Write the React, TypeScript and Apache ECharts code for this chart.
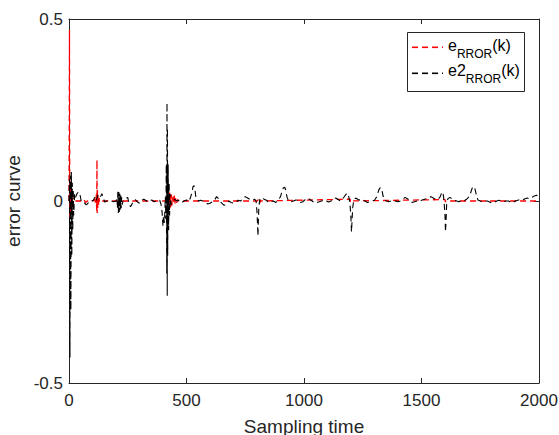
import React, { useEffect, useRef } from "react";
import * as echarts from "echarts";

// ---- data (sampling time, error value) ----
const seriesNames = ["e_RROR(k)", "e2_RROR(k)"];
const legendBase = ["e", "e2"];
const legendSub = "RROR";
const legendSuffix = "(k)";
const seriesColors = ["#ff0000", "#000000"];

const eRror: [number, number][] = [
  [0, 0], [1, 0.2], [2, 0.47], [3, 0.1], [4, -0.05], [6, 0.05], [8, -0.04], [10, 0.03],
  [12, -0.02], [14, 0.01], [18, 0.0], [30, 0.0], [60, 0.0], [64, 0.004], [70, -0.004],
  [78, 0.0], [100, 0.0], [110, 0.004], [114, -0.01], [116, 0.02], [118, -0.03], [119, 0.113],
  [120, -0.033], [121, 0.03], [122, -0.02], [124, 0.015], [126, -0.01], [128, 0.008],
  [130, -0.004], [134, 0.0], [300, 0.0], [420, 0.0], [424, 0.01], [426, -0.02], [428, 0.025],
  [430, -0.02], [432, 0.02], [434, -0.015], [436, 0.018], [438, -0.012], [440, 0.01],
  [444, -0.008], [448, 0.02], [450, -0.01], [454, 0.008], [458, -0.005], [462, 0.004],
  [468, 0.0], [800, 0.0], [812, 0.008], [814, -0.004], [816, 0.0], [1196, 0.005],
  [1198, -0.004], [1200, 0.0], [1600, 0.004], [1602, -0.003], [1604, 0.0], [2000, 0.0],
];

const e2Rror: [number, number][] = [
  [0, 0], [2, 0.06], [4, -0.43], [6, 0.07], [8, -0.3], [10, 0.08], [12, -0.15], [14, 0.05],
  [16, -0.08], [18, 0.03], [20, -0.04], [24, 0.02], [28, 0.01], [34, 0.02], [40, 0.025],
  [46, 0.02], [52, 0.0], [58, -0.005], [66, -0.005], [72, -0.01], [78, -0.008], [86, -0.002],
  [94, 0.002], [102, 0.0], [110, 0.01], [116, 0.0], [122, 0.015], [128, 0.02], [134, 0.012],
  [140, 0.02], [146, 0.008], [152, -0.003], [160, 0.0], [170, 0.002], [180, 0.0],
  [190, -0.002], [200, 0.0], [204, 0.01], [206, -0.02], [208, 0.03], [210, -0.033],
  [212, 0.025], [214, -0.03], [216, 0.02], [218, -0.025], [220, 0.015], [222, -0.02],
  [224, 0.01], [226, -0.01], [230, 0.0], [240, 0.005], [250, 0.01], [256, -0.01],
  [262, -0.016], [268, -0.008], [275, 0.0], [282, 0.004], [290, -0.002], [300, -0.006],
  [310, 0.002], [318, 0.005], [326, 0.002], [334, -0.002], [344, 0.0], [352, 0.003],
  [362, -0.002], [370, 0.0], [378, 0.003], [386, 0.002], [392, -0.01], [396, -0.03],
  [400, -0.07], [402, -0.04], [406, -0.06], [410, 0.01], [412, -0.05], [414, 0.1],
  [416, -0.2], [417, 0.27], [418, -0.26], [419, 0.2], [420, -0.15], [422, 0.1], [424, -0.08],
  [426, 0.05], [428, -0.04], [430, 0.02], [434, -0.01], [440, 0.0], [450, 0.004],
  [460, 0.0], [470, 0.002], [480, -0.004], [490, 0.0], [500, 0.003], [508, -0.002],
  [515, 0.006], [522, 0.02], [528, 0.04], [532, 0.042], [536, 0.03], [540, 0.01],
  [546, 0.004], [552, 0.0], [560, 0.002], [570, 0.0], [580, -0.004], [590, -0.008],
  [600, -0.006], [610, -0.002], [620, 0.003], [628, 0.012], [634, 0.008], [642, 0.0],
  [650, -0.006], [660, -0.012], [670, -0.008], [680, 0.0], [690, -0.004], [700, -0.006],
  [710, -0.003], [720, 0.002], [730, 0.0], [740, 0.006], [750, 0.012], [760, 0.008],
  [770, 0.004], [780, 0.002], [790, 0.005], [796, 0.0], [800, -0.03], [802, -0.06],
  [804, -0.096], [806, -0.05], [808, -0.015], [812, 0.004], [820, 0.01], [830, 0.005],
  [840, 0.002], [850, -0.004], [860, -0.002], [870, 0.0], [880, -0.004], [890, 0.002],
  [900, 0.012], [906, 0.025], [912, 0.036], [918, 0.038], [922, 0.03], [928, 0.01],
  [935, 0.0], [945, -0.002], [955, 0.0], [965, 0.003], [975, 0.0], [985, -0.004],
  [995, -0.002], [1005, 0.004], [1015, 0.008], [1025, 0.004], [1035, 0.0], [1045, -0.006],
  [1055, -0.004], [1065, -0.002], [1075, 0.0], [1085, 0.003], [1095, 0.0], [1105, -0.003],
  [1115, 0.0], [1125, 0.006], [1135, 0.008], [1145, 0.004], [1155, 0.0], [1165, 0.006],
  [1175, 0.015], [1183, 0.022], [1188, 0.018], [1192, 0.008], [1196, -0.01], [1200, -0.05],
  [1202, -0.085], [1204, -0.06], [1207, -0.02], [1212, 0.004], [1220, 0.008], [1230, 0.004],
  [1240, 0.002], [1250, 0.004], [1260, 0.0], [1270, -0.004], [1280, -0.002], [1290, 0.0],
  [1300, 0.002], [1310, 0.012], [1318, 0.03], [1324, 0.036], [1330, 0.035], [1336, 0.015],
  [1342, 0.003], [1350, 0.0], [1360, -0.002], [1370, 0.0], [1380, -0.002], [1390, 0.0],
  [1400, -0.002], [1410, 0.0], [1420, 0.004], [1430, 0.01], [1440, 0.006], [1450, 0.002],
  [1460, -0.004], [1470, -0.002], [1480, 0.0], [1490, -0.002], [1500, 0.002], [1510, 0.004],
  [1520, 0.006], [1530, 0.01], [1540, 0.012], [1550, 0.008], [1560, 0.004], [1570, 0.004],
  [1580, 0.012], [1587, 0.025], [1592, 0.02], [1596, 0.0], [1600, -0.04], [1602, -0.085],
  [1604, -0.06], [1607, -0.01], [1612, 0.006], [1620, 0.01], [1630, 0.006], [1640, 0.002],
  [1650, 0.0], [1660, -0.002], [1670, 0.002], [1680, 0.0], [1690, 0.004], [1700, 0.01],
  [1708, 0.02], [1716, 0.036], [1722, 0.04], [1728, 0.032], [1734, 0.015], [1740, 0.003],
  [1750, 0.0], [1760, -0.002], [1770, 0.0], [1780, 0.0], [1790, -0.003], [1800, -0.006],
  [1810, -0.004], [1820, 0.0], [1830, 0.002], [1840, 0.0], [1850, -0.002], [1860, 0.0],
  [1870, 0.0], [1880, -0.003], [1890, -0.004], [1900, 0.0], [1910, 0.002], [1920, 0.004],
  [1930, 0.002], [1940, 0.006], [1950, 0.008], [1960, 0.006], [1970, 0.01], [1980, 0.014],
  [1990, 0.016], [2000, 0.01],
];

const xMin = 0;
const xMax = 2000;
const xStep = 500;
const yMin = -0.5;
const yMax = 0.5;
const yStep = 0.5;
const xTitle = "Sampling time";
const yTitle = "error curve";

const FONT = "'Liberation Sans', Arial, Helvetica, sans-serif";
const AX = "#262626";

export default function App() {
  const ref = useRef<HTMLDivElement>(null);

  useEffect(() => {
    if (!ref.current) return;
    const chart = echarts.init(ref.current, undefined, { renderer: "svg" });

    const tick = { show: true, inside: true, length: 5, lineStyle: { color: AX, width: 1 } };
    const axisLine = { show: true, onZero: false, lineStyle: { color: AX, width: 1 } };
    const plain = (v: number) => String(v);

    const legendRich = {
      a: { fontSize: 16, lineHeight: 19, verticalAlign: "top", fontFamily: FONT, color: "#000" },
      s: {
        fontSize: 12,
        lineHeight: 12,
        padding: [11, 0, 0, 0],
        verticalAlign: "top",
        fontFamily: FONT,
        color: "#000",
      },
    };

    // legend layout (decoration only)
    const rowY = [46.5, 72.5];
    const textTop = [37, 62];
    const dashStarts = [412, 422, 432, 442];
    const dashLen = 6;
    const sampleEnd = 443;

    const legendChildren: any[] = [
      {
        type: "rect",
        z: 100,
        shape: { x: 407.5, y: 32.5, width: 117, height: 59 },
        style: { fill: "#ffffff", stroke: AX, lineWidth: 1 },
      },
    ];
    legendBase.forEach((b, i) => {
      dashStarts.forEach((x0) => {
        const w = Math.min(dashLen, sampleEnd - x0);
        legendChildren.push({
          type: "rect",
          z: 102,
          shape: { x: x0, y: rowY[i], width: w, height: 1.6 },
          style: { fill: seriesColors[i], stroke: "none", lineWidth: 0 },
        });
      });
      legendChildren.push({
        type: "text",
        z: 102,
        x: 448,
        y: textTop[i],
        style: {
          text: `{a|${b}}{s|${legendSub}}{a|${legendSuffix}}`,
          verticalAlign: "top",
          align: "left",
          rich: legendRich,
        },
      });
    });

    chart.setOption({
      animation: false,
      backgroundColor: "#ffffff",
      textStyle: { fontFamily: FONT },
      grid: {
        left: 69,
        right: 20,
        top: 19,
        bottom: 52,
        show: false,
        containLabel: false,
        outerBoundsMode: "none",
      },
      xAxis: [
        {
          type: "value",
          min: xMin,
          max: xMax,
          interval: xStep,
          position: "bottom",
          name: xTitle,
          nameLocation: "middle",
          nameGap: 34,
          nameTextStyle: { fontSize: 19, color: AX, fontFamily: FONT },
          axisLine,
          axisTick: tick,
          axisLabel: { fontSize: 17, color: AX, margin: 9, fontFamily: FONT, formatter: plain },
          splitLine: { show: false },
        },
        {
          type: "value",
          min: xMin,
          max: xMax,
          interval: xStep,
          position: "top",
          axisLine,
          axisTick: tick,
          axisLabel: { show: false },
          splitLine: { show: false },
        },
      ],
      yAxis: [
        {
          type: "value",
          min: yMin,
          max: yMax,
          interval: yStep,
          position: "left",
          name: yTitle,
          nameLocation: "middle",
          nameGap: 38,
          nameRotate: 90,
          nameTextStyle: { fontSize: 19, color: AX, fontFamily: FONT },
          axisLine,
          axisTick: tick,
          axisLabel: { fontSize: 17, color: AX, margin: 6, fontFamily: FONT, formatter: plain },
          splitLine: { show: false },
        },
        {
          type: "value",
          min: yMin,
          max: yMax,
          interval: yStep,
          position: "right",
          axisLine,
          axisTick: tick,
          axisLabel: { show: false },
          splitLine: { show: false },
        },
      ],
      series: [
        {
          name: seriesNames[0],
          type: "line",
          xAxisIndex: 0,
          yAxisIndex: 0,
          data: eRror,
          symbol: "none",
          lineStyle: { color: seriesColors[0], width: 1.3, type: [6, 4] },
          z: 2,
        },
        {
          name: seriesNames[1],
          type: "line",
          xAxisIndex: 0,
          yAxisIndex: 0,
          data: e2Rror,
          symbol: "none",
          lineStyle: { color: seriesColors[1], width: 1.1, type: [6, 4] },
          z: 3,
        },
      ],
      graphic: [{ type: "group", children: legendChildren }],
    });

    return () => chart.dispose();
  }, []);

  return (
    <div
      ref={ref}
      style={{ position: "fixed", left: 0, top: 0, width: 559, height: 435 }}
    />
  );
}
